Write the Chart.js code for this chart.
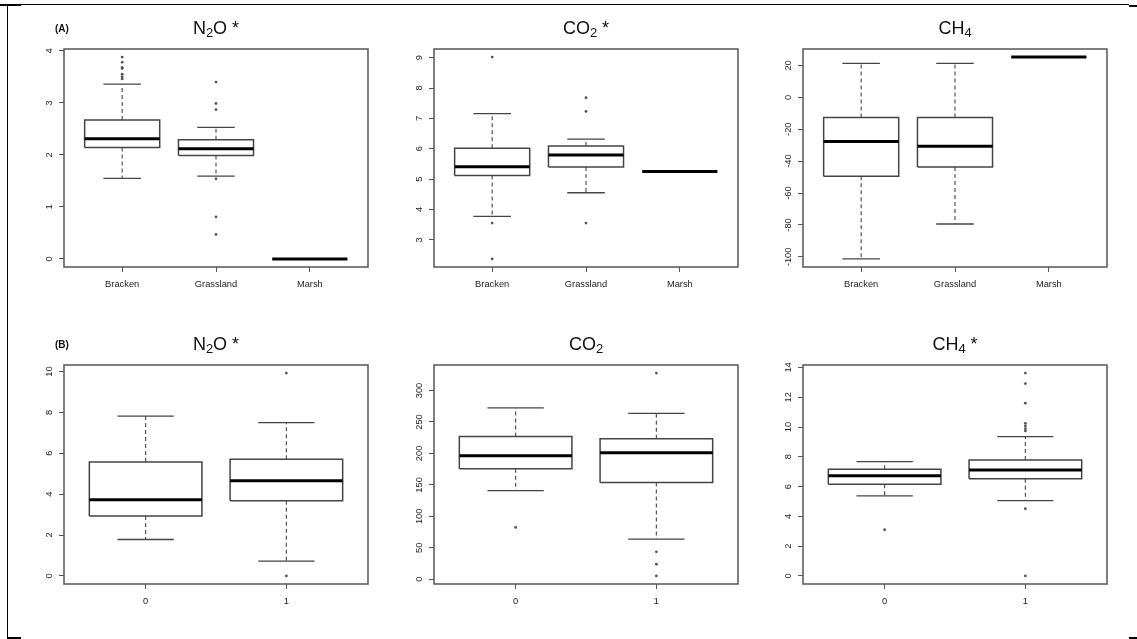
<!DOCTYPE html>
<html><head><meta charset="utf-8">
<script src="https://cdn.jsdelivr.net/npm/chart.js@4.4.1/dist/chart.umd.min.js"></script>
<style>
html,body{margin:0;padding:0;background:#fff;}
body{width:1137px;height:639px;overflow:hidden;position:relative;font-family:'Liberation Sans',Arial,sans-serif;}
canvas{position:absolute;}
.ln{position:absolute;background:#000;}
</style></head><body>
<div class="ln" style="left:0px;top:4px;width:21px;height:2px"></div>
<div class="ln" style="left:7px;top:4px;width:1122px;height:1.4px"></div>
<div class="ln" style="left:1129px;top:5px;width:8px;height:2px"></div>
<div class="ln" style="left:6.5px;top:4px;width:1.6px;height:635px"></div>
<div class="ln" style="left:7px;top:637px;width:14px;height:2px"></div>
<div class="ln" style="left:1129px;top:637px;width:8px;height:2px"></div>
<canvas id="a1"></canvas><canvas id="a2"></canvas><canvas id="a3"></canvas>
<canvas id="b1"></canvas><canvas id="b2"></canvas><canvas id="b3"></canvas>
<script>
// ---------- DATA ----------
// (A) by vegetation type
const catsA = ['Bracken', 'Grassland', 'Marsh'];

const aN2O_lo  = [1.55, 1.59, 0];
const aN2O_q1  = [2.14, 1.99, 0];
const aN2O_med = [2.31, 2.12, 0];
const aN2O_q3  = [2.67, 2.29, 0];
const aN2O_hi  = [3.36, 2.53, 0];
const aN2O_out = [[3.88, 3.78, 3.68, 3.66, 3.55, 3.50, 3.46], [3.40, 2.99, 2.87, 1.54, 0.81, 0.47], []];
const aN2O_ticks = [0, 1, 2, 3, 4];

const aCO2_lo  = [3.77, 4.55, 5.25];
const aCO2_q1  = [5.12, 5.40, 5.25];
const aCO2_med = [5.41, 5.79, 5.25];
const aCO2_q3  = [6.02, 6.09, 5.25];
const aCO2_hi  = [7.16, 6.32, 5.25];
const aCO2_out = [[9.02, 3.55, 2.37], [7.68, 7.23, 3.55], []];
const aCO2_ticks = [3, 4, 5, 6, 7, 8, 9];

const aCH4_lo  = [-101.3, -79.4, 25.25];
const aCH4_q1  = [-49.4, -43.7, 25.25];
const aCH4_med = [-27.7, -30.65, 25.25];
const aCH4_q3  = [-12.6, -12.6, 25.25];
const aCH4_hi  = [21.3, 21.3, 25.25];
const aCH4_out = [[], [], []];
const aCH4_ticks = [-100, -80, -60, -40, -20, 0, 20];

// (B) by group 0 / 1
const catsB = ['0', '1'];

const bN2O_lo  = [1.78, 0.72];
const bN2O_q1  = [2.93, 3.67];
const bN2O_med = [3.73, 4.65];
const bN2O_q3  = [5.57, 5.71];
const bN2O_hi  = [7.82, 7.50];
const bN2O_out = [[], [9.92, 0]];
const bN2O_ticks = [0, 2, 4, 6, 8, 10];

const bCO2_lo  = [141, 63.8];
const bCO2_q1  = [175.5, 153.7];
const bCO2_med = [196.3, 201];
const bCO2_q3  = [227.1, 223.4];
const bCO2_hi  = [272.3, 263.8];
const bCO2_out = [[82.4], [327.7, 43.6, 23.9, 5.3]];
const bCO2_ticks = [0, 50, 100, 150, 200, 250, 300];

const bCH4_lo  = [5.38, 5.05];
const bCH4_q1  = [6.15, 6.53];
const bCH4_med = [6.73, 7.11];
const bCH4_q3  = [7.16, 7.79];
const bCH4_hi  = [7.67, 9.36];
const bCH4_out = [[3.10], [13.62, 12.92, 11.60, 10.25, 10.07, 9.89, 9.74, 4.51, 0]];
const bCH4_ticks = [0, 2, 4, 6, 8, 10, 12, 14];

const titles = ['N2O *', 'CO2 *', 'CH4', 'N2O *', 'CO2', 'CH4 *'];
const letters = ['(A)', '', '', '(B)', '', ''];

// ---------- LAYOUT / STYLE ----------
const BOXES = {
  a1:{l:64,t:49,r:368,b:267}, a2:{l:434,t:49,r:738,b:267}, a3:{l:803,t:49,r:1107,b:267},
  b1:{l:64,t:365,r:368,b:584}, b2:{l:434,t:365,r:738,b:584}, b3:{l:803,t:365,r:1107,b:584}
};
const FONT = "'Liberation Sans', Arial, Helvetica, sans-serif";
const TICKFONT = 9.3;
const BW = 0.4, CAP = 0.2;
const PADL = 55, PADT = 45, PADR = 10, PADB = 35;

const dashStyle = {borderColor:'#555', borderWidth:1.2, borderDash:[4,3], order:3};
const capStyle  = {borderColor:'#444', borderWidth:1.3, order:3};
const boxStyle  = {borderColor:'#444', borderWidth:1.5, order:2};
const medStyle  = {borderColor:'#000', borderWidth:3, order:1};

function seg(pts, style){
  return Object.assign({data: pts.map(p => ({x:p[0], y:p[1]})), showLine:true, pointRadius:0, pointHoverRadius:0, fill:false, tension:0}, style);
}

function drawFormula(ctx, text, cx, baseline){
  const segs = [];
  for (const ch of text){
    const sub = /[0-9]/.test(ch);
    if (segs.length && segs[segs.length-1].sub === sub) segs[segs.length-1].t += ch;
    else segs.push({t:ch, sub});
  }
  const big = '18px ' + FONT, small = '13px ' + FONT;
  let total = 0;
  segs.forEach(s => { ctx.font = s.sub ? small : big; s.w = ctx.measureText(s.t).width; total += s.w; });
  let x = cx - total/2;
  ctx.fillStyle = '#111';
  ctx.textAlign = 'left'; ctx.textBaseline = 'alphabetic';
  segs.forEach(s => {
    ctx.font = s.sub ? small : big;
    ctx.fillText(s.t, x, s.sub ? baseline + 3 : baseline);
    x += s.w;
  });
}

function makePanel(id, cats, lo, q1, med, q3, hi, out, yTicks, title, letter){
  const box = BOXES[id];
  const cv = document.getElementById(id);
  const W = box.r - box.l + PADL + PADR, H = box.b - box.t + PADT + PADB;
  cv.width = W; cv.height = H;
  cv.style.left = (box.l - PADL) + 'px'; cv.style.top = (box.t - PADT) + 'px';
  cv.style.width = W + 'px'; cv.style.height = H + 'px';
  const n = cats.length;
  const xmin = 0.5 - 0.04*n, xmax = n + 0.5 + 0.04*n;
  const all = [].concat(lo, hi, q1, q3, ...out);
  const dmin = Math.min(...all), dmax = Math.max(...all), ext = 0.04*(dmax - dmin);
  const datasets = [];
  for (let i = 0; i < n; i++){
    const x = i + 1;
    datasets.push(seg([[x, q3[i]], [x, hi[i]]], dashStyle));
    datasets.push(seg([[x, q1[i]], [x, lo[i]]], dashStyle));
    datasets.push(seg([[x-CAP, hi[i]], [x+CAP, hi[i]]], capStyle));
    datasets.push(seg([[x-CAP, lo[i]], [x+CAP, lo[i]]], capStyle));
    datasets.push(seg([[x-BW, q1[i]], [x+BW, q1[i]], [x+BW, q3[i]], [x-BW, q3[i]], [x-BW, q1[i]]], boxStyle));
    datasets.push(seg([[x-BW, med[i]], [x+BW, med[i]]], medStyle));
    datasets.push({data: out[i].map(v => ({x:x, y:v})), showLine:false, pointRadius:1.4, pointHoverRadius:0,
      pointBackgroundColor:'#555', pointBorderColor:'#555', pointBorderWidth:0, order:0});
  }
  const decor = {
    id: 'decor',
    afterDraw(chart){
      const ctx = chart.ctx, ca = chart.chartArea, ys = chart.scales.y;
      ctx.save();
      ctx.strokeStyle = '#555'; ctx.lineWidth = 1.5;
      ctx.strokeRect(ca.left, ca.top, ca.right - ca.left, ca.bottom - ca.top);
      ctx.fillStyle = '#222';
      ctx.font = TICKFONT + 'px ' + FONT;
      ctx.textAlign = 'center'; ctx.textBaseline = 'middle';
      ys.ticks.forEach(t => {
        const y = ys.getPixelForValue(t.value);
        ctx.save(); ctx.translate(ca.left - 15, y); ctx.rotate(-Math.PI/2);
        ctx.fillText(String(t.value), 0, 0); ctx.restore();
      });
      drawFormula(ctx, title, (ca.left + ca.right)/2, ca.top - 15.5);
      if (letter){
        ctx.font = 'bold 10px ' + FONT; ctx.fillStyle = '#111';
        ctx.textAlign = 'left'; ctx.textBaseline = 'alphabetic';
        ctx.fillText(letter, ca.left - 9, ca.top - 17);
      }
      ctx.restore();
    }
  };
  new Chart(cv, {
    type: 'scatter',
    data: {datasets},
    options: {
      responsive: false, animation: false, devicePixelRatio: 1, events: [],
      layout: {padding: {left: 0, top: PADT, right: PADR, bottom: 0}},
      plugins: {legend: {display: false}, tooltip: {enabled: false}, title: {display: false}},
      scales: {
        x: {
          type: 'linear', min: xmin, max: xmax,
          afterBuildTicks: s => { s.ticks = cats.map((c, i) => ({value: i + 1})); },
          afterFit: s => { s.height = PADB; },
          ticks: {autoSkip: false, maxRotation: 0, minRotation: 0, padding: 7, color: '#222',
            font: {family: FONT, size: TICKFONT},
            callback: v => cats[Math.round(v) - 1]},
          grid: {display: true, drawOnChartArea: false, drawTicks: true, tickLength: 5, color: '#555', lineWidth: 1},
          border: {display: false}
        },
        y: {
          type: 'linear', min: dmin - ext, max: dmax + ext,
          afterBuildTicks: s => { s.ticks = yTicks.map(v => ({value: v})); },
          afterFit: s => { s.width = PADL; },
          ticks: {display: false},
          grid: {display: true, drawOnChartArea: false, drawTicks: true, tickLength: 5, color: '#555', lineWidth: 1},
          border: {display: false}
        }
      }
    },
    plugins: [decor]
  });
}

makePanel('a1', catsA, aN2O_lo, aN2O_q1, aN2O_med, aN2O_q3, aN2O_hi, aN2O_out, aN2O_ticks, titles[0], letters[0]);
makePanel('a2', catsA, aCO2_lo, aCO2_q1, aCO2_med, aCO2_q3, aCO2_hi, aCO2_out, aCO2_ticks, titles[1], letters[1]);
makePanel('a3', catsA, aCH4_lo, aCH4_q1, aCH4_med, aCH4_q3, aCH4_hi, aCH4_out, aCH4_ticks, titles[2], letters[2]);
makePanel('b1', catsB, bN2O_lo, bN2O_q1, bN2O_med, bN2O_q3, bN2O_hi, bN2O_out, bN2O_ticks, titles[3], letters[3]);
makePanel('b2', catsB, bCO2_lo, bCO2_q1, bCO2_med, bCO2_q3, bCO2_hi, bCO2_out, bCO2_ticks, titles[4], letters[4]);
makePanel('b3', catsB, bCH4_lo, bCH4_q1, bCH4_med, bCH4_q3, bCH4_hi, bCH4_out, bCH4_ticks, titles[5], letters[5]);
</script>
</body></html>
